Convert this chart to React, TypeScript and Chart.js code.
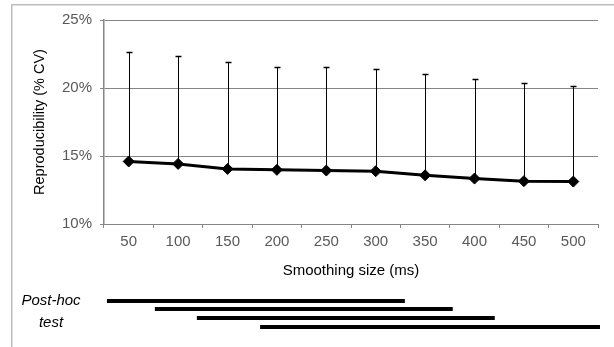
import React, { useEffect, useRef } from 'react';
import { Chart, registerables } from 'chart.js';

Chart.register(...registerables);

// ---- data ----
const categories = ['50', '100', '150', '200', '250', '300', '350', '400', '450', '500'];
const meanCV = [14.6, 14.42, 14.05, 13.98, 13.93, 13.88, 13.58, 13.34, 13.15, 13.12];
const upperCV = [22.65, 22.35, 21.89, 21.57, 21.52, 21.37, 21.02, 20.63, 20.34, 20.17];
const yTickValues = [10, 15, 20, 25];
// post-hoc bars, expressed in category-index units of the x scale
const postHocStart = [-0.44, 0.53, 1.38, 2.66];
const postHocEnd = [5.59, 6.56, 7.41, 9.54];
const xTitle = 'Smoothing size (ms)';
const yTitle = 'Reproducibility (% CV)';
const postHocLabel = ['Post-hoc', 'test'];

const FONT = '"Liberation Sans", Arial, Helvetica, sans-serif';

const overlayPlugin = {
  id: 'overlay',
  beforeDraw(chart: any) {
    const ctx = chart.ctx;
    ctx.save();
    ctx.fillStyle = '#ffffff';
    ctx.fillRect(0, 0, chart.width, chart.height);
    ctx.strokeStyle = '#bdbdbd';
    ctx.lineWidth = 1.5;
    ctx.strokeRect(11.75, 4.75, chart.width + 20, chart.height + 20);
    ctx.restore();
  },
  beforeDatasetsDraw(chart: any) {
    const ctx = chart.ctx;
    const xs = chart.scales.x;
    const ys = chart.scales.y;
    ctx.save();
    ctx.strokeStyle = '#000000';
    for (let i = 0; i < meanCV.length; i++) {
      const x = Math.round(xs.getPixelForValue(i)) + 0.5;
      const y0 = ys.getPixelForValue(meanCV[i]);
      const y1 = Math.round(ys.getPixelForValue(upperCV[i])) + 0.5;
      ctx.lineWidth = 1;
      ctx.beginPath();
      ctx.moveTo(x, y0);
      ctx.lineTo(x, y1);
      ctx.stroke();
      ctx.lineWidth = 1.5;
      ctx.beginPath();
      ctx.moveTo(x - 3, y1);
      ctx.lineTo(x + 3, y1);
      ctx.stroke();
    }
    ctx.restore();
  },
  afterDraw(chart: any) {
    const ctx = chart.ctx;
    const area = chart.chartArea;
    const xs = chart.scales.x;
    ctx.save();
    ctx.fillStyle = '#000000';
    ctx.textAlign = 'center';
    ctx.textBaseline = 'middle';
    // x title
    ctx.font = `15px ${FONT}`;
    ctx.fillText(xTitle, (area.left + area.right) / 2, area.bottom + 47);
    // y title
    ctx.save();
    ctx.translate(40, (area.top + area.bottom) / 2);
    ctx.rotate(-Math.PI / 2);
    ctx.font = `14.5px ${FONT}`;
    ctx.fillText(yTitle, 0, 0);
    ctx.restore();
    // post-hoc label
    ctx.font = `italic 15px ${FONT}`;
    ctx.fillText(postHocLabel[0], 51, area.bottom + 77);
    ctx.fillText(postHocLabel[1], 51, area.bottom + 99);
    // post-hoc bars
    ctx.fillStyle = '#000000';
    for (let i = 0; i < postHocStart.length; i++) {
      const xa = xs.getPixelForValue(postHocStart[i]);
      const xb = xs.getPixelForValue(postHocEnd[i]);
      const yc = area.bottom + 76.5 + i * 8.7;
      ctx.fillRect(xa, Math.round(yc - 2), xb - xa, 4);
    }
    ctx.restore();
  },
};

export default function App() {
  const canvasRef = useRef<HTMLCanvasElement | null>(null);

  useEffect(() => {
    if (!canvasRef.current) return;
    const chart = new Chart(canvasRef.current, {
      type: 'line',
      data: {
        labels: categories,
        datasets: [
          {
            data: meanCV,
            borderColor: '#000000',
            backgroundColor: '#000000',
            borderWidth: 3,
            pointStyle: 'rectRot',
            pointRadius: 5.5,
            pointBackgroundColor: '#000000',
            pointBorderColor: '#000000',
            pointBorderWidth: 1,
            tension: 0,
          },
        ],
      },
      options: {
        responsive: false,
        animation: false,
        devicePixelRatio: 1,
        layout: { padding: { top: 20, right: 16, left: 0, bottom: 0 } },
        plugins: {
          legend: { display: false },
          tooltip: { enabled: false },
        },
        scales: {
          x: {
            type: 'category',
            offset: true,
            grid: {
              offset: true,
              drawOnChartArea: false,
              drawTicks: true,
              tickLength: 4,
              color: '#868686',
            },
            border: { color: '#868686', width: 1 },
            ticks: {
              color: '#595959',
              font: { family: FONT, size: 15 },
              padding: 5,
              maxRotation: 0,
              autoSkip: false,
            },
            afterFit(scale: any) {
              scale.height = 123;
            },
          },
          y: {
            min: 10,
            max: 25,
            afterBuildTicks(scale: any) {
              scale.ticks = yTickValues.map((v) => ({ value: v }));
            },
            grid: {
              color: '#868686',
              tickLength: 4,
              drawTicks: true,
            },
            border: { color: '#868686', width: 1.5 },
            ticks: {
              color: '#595959',
              font: { family: FONT, size: 15 },
              padding: 8,
              callback: (v: any) => `${v}%`,
            },
            afterFit(scale: any) {
              scale.width = 104;
            },
          },
        },
      },
      plugins: [overlayPlugin],
    });
    return () => chart.destroy();
  }, []);

  return (
    <div style={{ position: 'fixed', left: 0, top: 0, width: 614, height: 347 }}>
      <canvas ref={canvasRef} width={614} height={347} />
    </div>
  );
}
